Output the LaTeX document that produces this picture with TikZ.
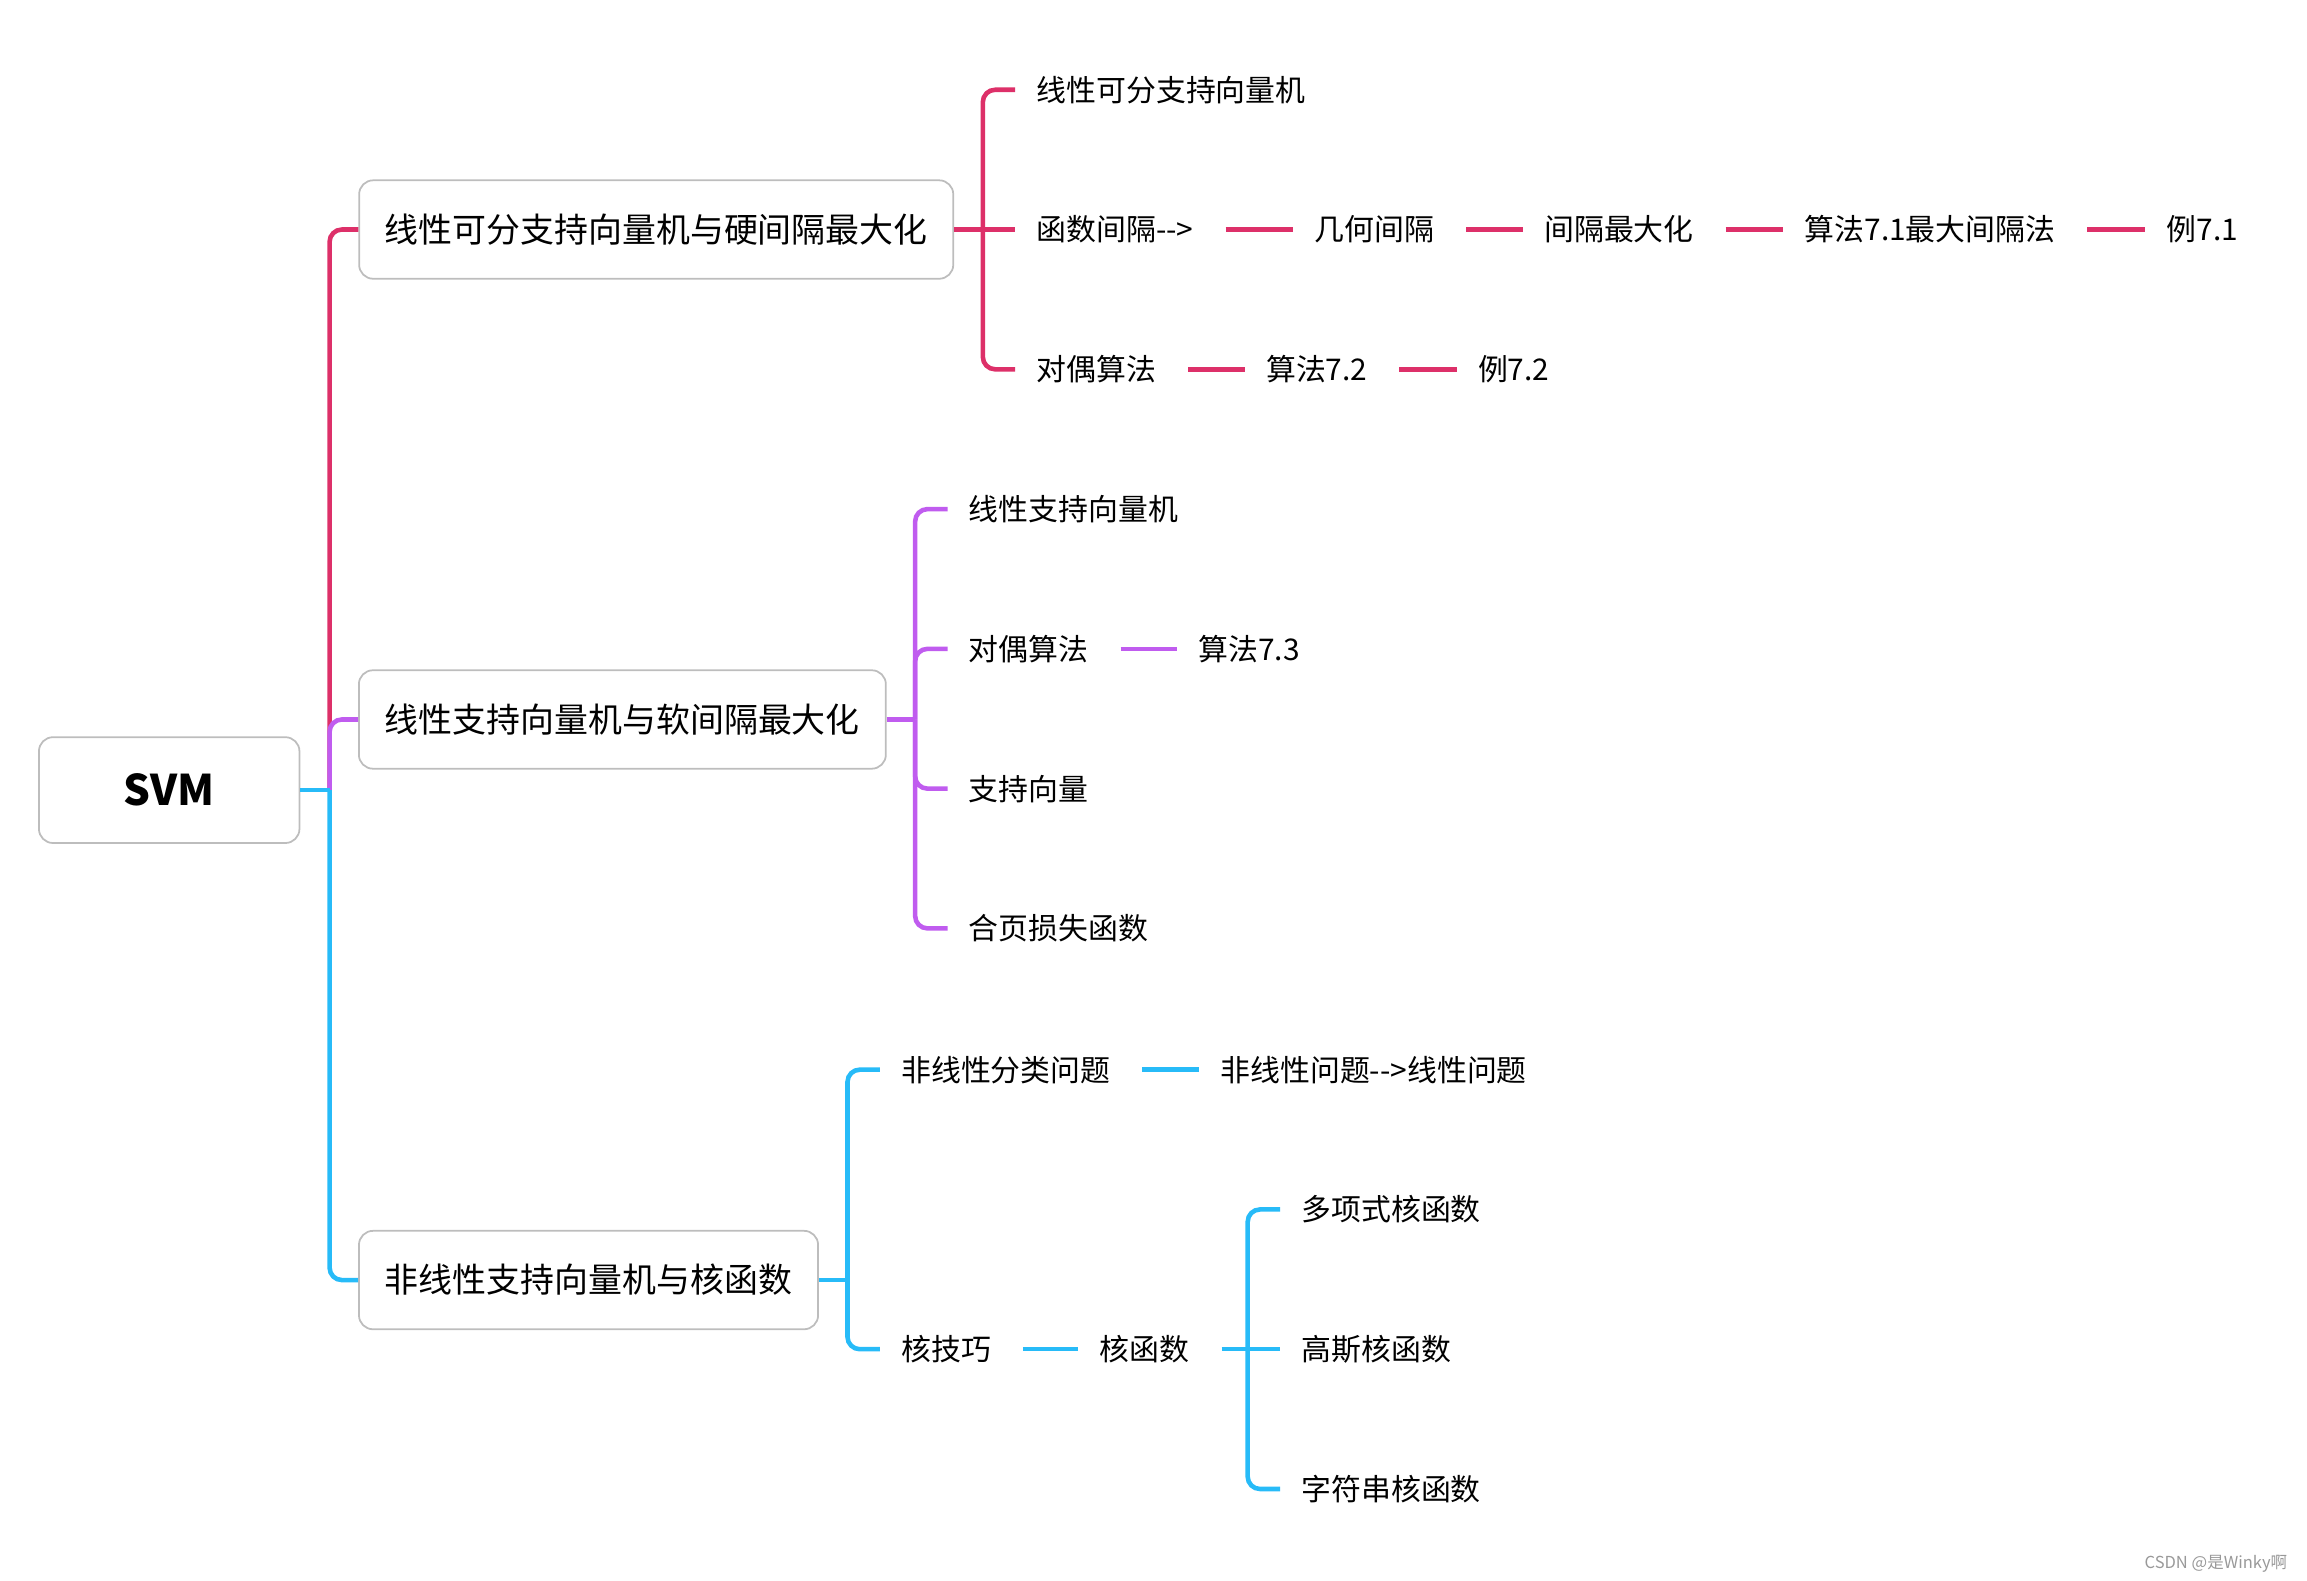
\documentclass[tikz,border=0pt]{standalone}
\usepackage{fontspec}
\setmainfont{Noto Sans CJK SC}
\definecolor{branchred}{HTML}{DD3069}
\definecolor{branchpurple}{HTML}{C05CEF}
\definecolor{branchblue}{HTML}{27BBF8}
\definecolor{boxgray}{HTML}{BDBDBD}
\tikzset{
  root/.style={draw=boxgray, line width=0.5pt, rounded corners=4pt, minimum width=74.1pt,
    minimum height=30.1pt, font=\fontsize{12pt}{14pt}\selectfont\bfseries},
  topic/.style={draw=boxgray, line width=0.5pt, rounded corners=4pt, minimum height=28pt,
    font=\fontsize{9.65pt}{12pt}\selectfont},
  leaf/.style={anchor=west, inner xsep=5.45pt, font=\fontsize{8.5pt}{10pt}\selectfont},
  elbow/.style={rounded corners=3.5pt},
  link/.style={shorten <=3pt}
}
\begin{document}
\begin{tikzpicture}[x=0.014713cm, y=-0.014713cm, line width=1.3pt]
      \useasboundingbox (0,0) rectangle (1568,1074);
      \draw
        (115,537) node[root] (svm){SVM}
        (446,156) node[topic, minimum width=169pt] (hard){线性可分支持向量机与硬间隔最大化}
        (423,489) node[topic, minimum width=149.9pt] (soft){线性支持向量机与软间隔最大化}
        (400,870) node[topic, minimum width=130.6pt] (kern){非线性支持向量机与核函数};
      \coordinate (svm-j) at (224,537);
      \coordinate (hard-j) at (668,156);
      \coordinate (soft-j) at (622,489);
      \coordinate (kern-j) at (576,870);
      \coordinate (kfun-j) at (848,917);
      % hard margin
      \draw
        (690,61) node[leaf] (hard-1){线性可分支持向量机}
        (690,156) node[leaf] (hard-2){函数间隔-{}->}
        (879,156) node[leaf] (hard-2a){几何间隔}
        (1035,156) node[leaf] (hard-2b){间隔最大化}
        (1212,156) node[leaf] (hard-2c){算法7.1最大间隔法}
        (1458,156) node[leaf] (hard-2d){例7.1}
        (690,251) node[leaf] (hard-3){对偶算法}
        (846,251) node[leaf] (hard-3a){算法7.2}
        (990,251) node[leaf] (hard-3b){例7.2};
      % soft margin
      \draw
        (644,346) node[leaf] (soft-1){线性支持向量机}
        (644,441) node[leaf] (soft-2){对偶算法}
        (800,441) node[leaf] (soft-2a){算法7.3}
        (644,536) node[leaf] (soft-3){支持向量}
        (644,631) node[leaf] (soft-4){合页损失函数};
      % kernels
      \draw
        (598,727) node[leaf] (kern-1){非线性分类问题}
        (815,727) node[leaf] (kern-1a){非线性问题-{}->线性问题}
        (598,917) node[leaf] (kern-2){核技巧}
        (733,917) node[leaf] (kern-2a){核函数}
        (870,822) node[leaf] (kfun-1){多项式核函数}
        (870,917) node[leaf] (kfun-2){高斯核函数}
        (870,1012) node[leaf] (kfun-3){字符串核函数};
      \begin{scope}[branchred]
        \draw[elbow] (svm-j) |- (hard.west);
        \draw (hard.east) to (hard-j);
        \draw[elbow] (hard-j) |- (hard-1.west);
        \draw (hard-j) to (hard-2.west);
        \draw[elbow] (hard-j) |- (hard-3.west);
        \draw[link] (hard-2.east) to (hard-2a.west);
        \draw[link] (hard-2a.east) to (hard-2b.west);
        \draw[link] (hard-2b.east) to (hard-2c.west);
        \draw[link] (hard-2c.east) to (hard-2d.west);
        \draw[link] (hard-3.east) to (hard-3a.west);
        \draw[link] (hard-3a.east) to (hard-3b.west);
      \end{scope}
      \begin{scope}[branchpurple]
        \draw[elbow] (svm-j) |- (soft.west);
        \draw (soft.east) to (soft-j);
        \draw[elbow] (soft-j) |- (soft-1.west);
        \draw[elbow] (soft-j) |- (soft-2.west);
        \draw[elbow] (soft-j) |- (soft-3.west);
        \draw[elbow] (soft-j) |- (soft-4.west);
        \draw[link] (soft-2.east) to (soft-2a.west);
      \end{scope}
      \begin{scope}[branchblue]
        \draw (svm.east) to (svm-j);
        \draw[elbow] (svm-j) |- (kern.west);
        \draw (kern.east) to (kern-j);
        \draw[elbow] (kern-j) |- (kern-1.west);
        \draw[elbow] (kern-j) |- (kern-2.west);
        \draw[link] (kern-1.east) to (kern-1a.west);
        \draw[link] (kern-2.east) to (kern-2a.west);
        \draw[link] (kern-2a.east) to (kfun-j);
        \draw[elbow] (kfun-j) |- (kfun-1.west);
        \draw (kfun-j) to (kfun-2.west);
        \draw[elbow] (kfun-j) |- (kfun-3.west);
      \end{scope}
      \node[text=gray!80, font=\fontsize{4.7pt}{5pt}\selectfont, anchor=east] (mark) at (1564,1063) {CSDN @是Winky啊};
    \end{tikzpicture}
\end{document}
